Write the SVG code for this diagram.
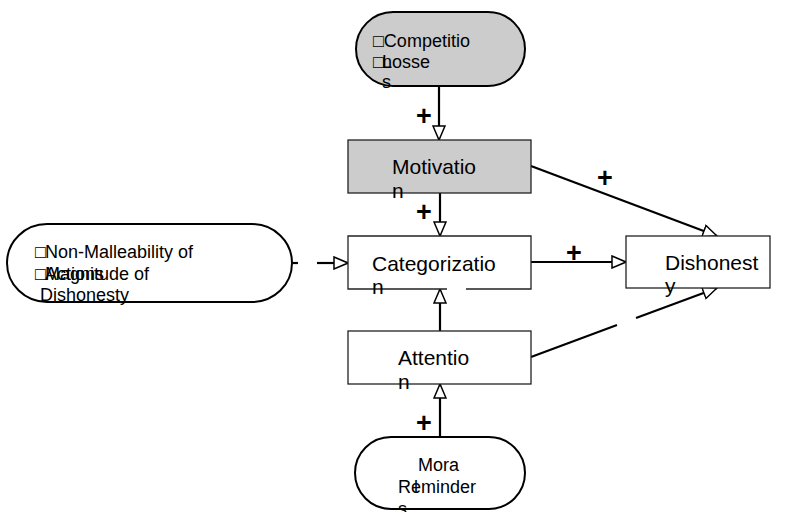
<svg xmlns="http://www.w3.org/2000/svg" width="798" height="512" viewBox="0 0 798 512">
<style>
  .t { font-family: "Liberation Sans", Arial, sans-serif; font-size: 18px; fill: #000; }
  .tb { font-family: "Liberation Sans", Arial, sans-serif; font-size: 21px; fill: #000; }
  .plus { font-family: "Liberation Sans", Arial, sans-serif; font-size: 27px; font-weight: bold; fill: #000; text-anchor: middle; }
  .pill { stroke: #000; stroke-width: 2; }
  .box { stroke: #222; stroke-width: 1.3; }
  .gray { fill: #cccccc; }
  .white { fill: #ffffff; }
  .edge { stroke: #000; stroke-width: 2.2; fill: none; }
</style>
<defs>
  <marker id="arr" viewBox="0 0 16 14" markerWidth="16" markerHeight="14" refX="15" refY="7" orient="auto" markerUnits="userSpaceOnUse">
    <path d="M1,1 L15,7 L1,13 Z" fill="#fff" stroke="#000" stroke-width="1.5"/>
  </marker>
</defs>
<rect width="798" height="512" fill="#fff"/>

<g id="connectors">
  <line class="edge" x1="439" y1="86" x2="439" y2="140" marker-end="url(#arr)"/>
  <line class="edge" x1="440" y1="193" x2="440" y2="236" marker-end="url(#arr)"/>
  <line class="edge" x1="440" y1="437" x2="440" y2="384" marker-end="url(#arr)"/>
  <line class="edge" x1="440" y1="331" x2="440" y2="289" marker-end="url(#arr)"/>
  <line class="edge" x1="531" y1="166" x2="717" y2="236" marker-end="url(#arr)"/>
  <line class="edge" x1="531" y1="262" x2="626" y2="262" marker-end="url(#arr)"/>
  <line class="edge" x1="531" y1="357" x2="617" y2="325"/>
  <line class="edge" x1="636" y1="318" x2="717" y2="288" marker-end="url(#arr)"/>
  <line class="edge" x1="292" y1="263" x2="298" y2="263"/>
  <line class="edge" x1="317" y1="263" x2="348" y2="263" marker-end="url(#arr)"/>
  <text class="plus" x="424" y="125">+</text>
  <text class="plus" x="424" y="221">+</text>
  <text class="plus" x="605" y="187">+</text>
  <text class="plus" x="574" y="262">+</text>
  <text class="plus" x="424" y="432">+</text>
</g>

<g id="competition-losses">
  <rect class="pill gray" x="356" y="12" width="169" height="74" rx="37" ry="37"/>
  <text class="t" x="373" y="47">□Competitio</text>
  <text class="t" x="373" y="68">□</text>
  <text class="t" x="382" y="68">Losse</text>
  <text class="t" x="382" y="68">n</text>
  <text class="t" x="382" y="88">s</text>
</g>

<g id="motivation">
  <rect class="box gray" x="348" y="140" width="183" height="53"/>
  <text class="tb" x="392" y="174">Motivatio</text>
  <text class="tb" x="392" y="198">n</text>
</g>

<g id="categorization">
  <rect class="white" x="348" y="236" width="183" height="53"/>
  <path class="box" fill="none" d="M447,289 L348,289 L348,236 L531,236 L531,289 L466,289"/>
  <text class="tb" x="372" y="271">Categorizatio</text>
  <text class="tb" x="372" y="294">n</text>
</g>

<g id="dishonesty">
  <rect class="box white" x="626" y="236" width="144" height="52"/>
  <text class="tb" x="665" y="270">Dishonest</text>
  <text class="tb" x="665" y="293">y</text>
</g>

<g id="attention">
  <rect class="box white" x="348" y="331" width="183" height="53"/>
  <text class="tb" x="398" y="365">Attentio</text>
  <text class="tb" x="398" y="389">n</text>
</g>

<g id="non-malleability">
  <rect class="pill white" x="7" y="224" width="285" height="78" rx="40" ry="39"/>
  <text class="t" x="35" y="258">□</text>
  <text class="t" x="45" y="258">Non-Malleability of</text>
  <text class="t" x="35" y="280">□</text>
  <text class="t" x="45" y="280">Magnitude of</text>
  <text class="t" x="45" y="280">Actions</text>
  <text class="t" x="40" y="301">Dishonesty</text>
</g>

<g id="moral-reminders">
  <rect class="pill white" x="355" y="437" width="170" height="72" rx="36" ry="36"/>
  <text class="t" x="418" y="471">Mora</text>
  <text class="t" x="398" y="493">Reminder</text>
  <text class="t" x="414" y="493">l</text>
  <text class="t" x="398" y="515">s</text>
</g>
</svg>
